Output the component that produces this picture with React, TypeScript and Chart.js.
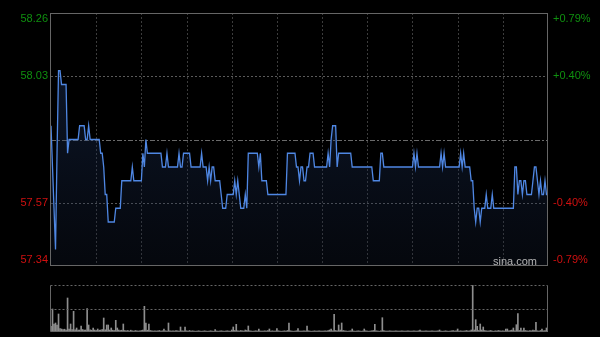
import { useEffect, useRef } from 'react';
import { Chart, registerables } from 'chart.js';

Chart.register(...registerables);

// ---- data ----
const prevClose = 57.8;
const priceMin = 57.34;
const priceMax = 58.26;
const leftTickValues = [58.26, 58.03, 57.57, 57.34];
const leftTickLabels = ['58.26', '58.03', '57.57', '57.34'];
const rightTickLabels = ['+0.79%', '+0.40%', '-0.40%', '-0.79%'];
const timeGridMinutes = [30, 60, 90, 120, 150, 180, 210, 240, 270, 300];
const lastMinute = 330;

const prices = [
  57.85, 57.70, 57.55, 57.40, 57.75, 58.05, 58.05, 58.00, 58.00, 58.00,
  58.00, 57.75, 57.80, 57.80, 57.80, 57.80, 57.80, 57.80, 57.80, 57.85,
  57.85, 57.85, 57.85, 57.80, 57.80, 57.85, 57.80, 57.80, 57.80, 57.80,
  57.80, 57.80, 57.80, 57.75, 57.75, 57.70, 57.60, 57.60, 57.50, 57.50,
  57.50, 57.50, 57.50, 57.55, 57.55, 57.55, 57.55, 57.65, 57.65, 57.65,
  57.65, 57.65, 57.65, 57.65, 57.70, 57.65, 57.65, 57.65, 57.65, 57.65,
  57.65, 57.75, 57.70, 57.80, 57.75, 57.75, 57.75, 57.75, 57.75, 57.75,
  57.75, 57.75, 57.75, 57.75, 57.70, 57.70, 57.70, 57.75, 57.70, 57.70,
  57.70, 57.70, 57.70, 57.70, 57.70, 57.75, 57.70, 57.70, 57.75, 57.75,
  57.75, 57.75, 57.75, 57.70, 57.70, 57.70, 57.70, 57.70, 57.70, 57.70,
  57.75, 57.70, 57.70, 57.70, 57.65, 57.70, 57.65, 57.70, 57.70, 57.65,
  57.65, 57.65, 57.65, 57.60, 57.55, 57.55, 57.55, 57.60, 57.60, 57.60,
  57.60, 57.60, 57.65, 57.60, 57.65, 57.60, 57.55, 57.55, 57.55, 57.60,
  57.55, 57.75, 57.75, 57.75, 57.75, 57.75, 57.75, 57.75, 57.70, 57.75,
  57.65, 57.65, 57.65, 57.65, 57.60, 57.60, 57.60, 57.60, 57.60, 57.60,
  57.60, 57.60, 57.60, 57.60, 57.60, 57.60, 57.60, 57.75, 57.75, 57.75,
  57.75, 57.75, 57.75, 57.70, 57.70, 57.65, 57.70, 57.70, 57.65, 57.65,
  57.70, 57.70, 57.75, 57.75, 57.75, 57.70, 57.70, 57.70, 57.70, 57.70,
  57.70, 57.70, 57.70, 57.70, 57.75, 57.70, 57.80, 57.85, 57.85, 57.85,
  57.70, 57.75, 57.75, 57.75, 57.75, 57.75, 57.75, 57.75, 57.75, 57.75,
  57.70, 57.70, 57.70, 57.70, 57.70, 57.70, 57.70, 57.70, 57.70, 57.70,
  57.70, 57.70, 57.70, 57.70, 57.65, 57.65, 57.65, 57.65, 57.65, 57.75,
  57.75, 57.70, 57.70, 57.70, 57.70, 57.70, 57.70, 57.70, 57.70, 57.70,
  57.70, 57.70, 57.70, 57.70, 57.70, 57.70, 57.70, 57.70, 57.70, 57.70,
  57.70, 57.75, 57.70, 57.75, 57.70, 57.70, 57.70, 57.70, 57.70, 57.70,
  57.70, 57.70, 57.70, 57.70, 57.70, 57.70, 57.70, 57.70, 57.70, 57.75,
  57.70, 57.75, 57.70, 57.70, 57.70, 57.70, 57.70, 57.70, 57.70, 57.70,
  57.70, 57.70, 57.75, 57.70, 57.75, 57.70, 57.70, 57.70, 57.70, 57.65,
  57.65, 57.55, 57.50, 57.55, 57.55, 57.50, 57.55, 57.55, 57.55, 57.60,
  57.55, 57.55, 57.55, 57.60, 57.55, 57.55, 57.55, 57.55, 57.55, 57.55,
  57.55, 57.55, 57.55, 57.55, 57.55, 57.55, 57.55, 57.55, 57.70, 57.70,
  57.60, 57.65, 57.65, 57.60, 57.65, 57.65, 57.60, 57.60, 57.60, 57.60,
  57.65, 57.70, 57.70, 57.65, 57.60, 57.65, 57.60, 57.60, 57.65, 57.60,
  57.60,
];

const volumes = [
  57, 230, 80, 90, 70, 180, 33, 30, 25, 28,
  20, 340, 30, 80, 25, 207, 22, 40, 18, 20,
  60, 25, 18, 20, 233, 70, 22, 18, 40, 20,
  15, 30, 18, 20, 25, 140, 22, 70, 70, 20,
  40, 18, 15, 117, 40, 20, 15, 18, 80, 15,
  12, 15, 10, 18, 12, 10, 15, 12, 10, 12,
  15, 20, 257, 90, 18, 80, 15, 12, 10, 12,
  10, 12, 15, 10, 12, 30, 12, 10, 90, 12,
  10, 12, 10, 15, 12, 10, 50, 12, 10, 50,
  12, 10, 15, 10, 12, 10, 8, 10, 12, 10,
  8, 10, 12, 10, 8, 10, 12, 10, 8, 23,
  10, 8, 10, 12, 10, 8, 10, 12, 10, 8,
  20, 50, 15, 77, 12, 10, 15, 12, 10, 20,
  15, 60, 12, 10, 8, 10, 12, 10, 30, 10,
  8, 10, 12, 10, 15, 30, 10, 12, 8, 10,
  33, 12, 10, 8, 10, 12, 10, 15, 90, 12,
  10, 8, 10, 12, 33, 10, 8, 10, 12, 10,
  60, 12, 10, 8, 10, 12, 8, 10, 12, 10,
  8, 10, 12, 10, 15, 20, 30, 12, 177, 15,
  12, 70, 20, 90, 15, 12, 10, 8, 10, 12,
  30, 10, 8, 10, 12, 10, 8, 10, 30, 12,
  10, 8, 10, 12, 15, 77, 12, 10, 8, 12,
  143, 15, 10, 8, 10, 12, 10, 8, 10, 12,
  10, 8, 10, 12, 10, 8, 10, 12, 10, 8,
  10, 12, 10, 8, 12, 20, 10, 8, 10, 12,
  10, 8, 10, 12, 10, 8, 10, 12, 20, 10,
  8, 10, 12, 10, 8, 10, 12, 15, 10, 12,
  30, 10, 12, 8, 10, 12, 15, 10, 12, 20,
  470, 20, 123, 57, 15, 80, 20, 50, 15, 12,
  10, 12, 15, 10, 8, 12, 10, 15, 12, 10,
  12, 10, 30, 30, 12, 15, 20, 40, 12, 73,
  183, 15, 40, 12, 40, 15, 12, 10, 15, 12,
  20, 15, 97, 12, 10, 15, 30, 12, 15, 40,
  20,
];
const volumeMax = 470;

const GREEN = '#0f900f';
const RED = '#d01010';
const FONT = '11px Arial, "Liberation Sans", sans-serif';

export default function App() {
  const priceRef = useRef<HTMLCanvasElement>(null);
  const volRef = useRef<HTMLCanvasElement>(null);

  useEffect(() => {
    if (!priceRef.current || !volRef.current) return;

    const pricePlugin = {
      id: 'priceDeco',
      beforeDatasetsDraw(chart: any) {
        const { ctx, chartArea: a, scales } = chart;
        const xs = scales.x;
        const ys = scales.y;
        ctx.save();
        ctx.lineWidth = 1;
        ctx.strokeStyle = '#3c3c3c';
        ctx.setLineDash([2, 2]);
        for (const m of timeGridMinutes) {
          const px = Math.round(xs.getPixelForValue(m)) + 0.5;
          ctx.beginPath();
          ctx.moveTo(px, a.top);
          ctx.lineTo(px, a.bottom);
          ctx.stroke();
        }
        ctx.strokeStyle = '#5a5a5a';
        ctx.setLineDash([2, 2]);
        for (const v of [leftTickValues[1], leftTickValues[2]]) {
          const py = Math.round(ys.getPixelForValue(v)) + 0.5;
          ctx.beginPath();
          ctx.moveTo(a.left, py);
          ctx.lineTo(a.right, py);
          ctx.stroke();
        }
        ctx.strokeStyle = '#6a6a6a';
        ctx.setLineDash([5, 2, 2, 2]);
        const pc = Math.round(ys.getPixelForValue(prevClose)) + 0.5;
        ctx.beginPath();
        ctx.moveTo(a.left, pc);
        ctx.lineTo(a.right, pc);
        ctx.stroke();
        ctx.restore();
      },
      afterDraw(chart: any) {
        const { ctx, chartArea: a, scales } = chart;
        const ys = scales.y;
        ctx.save();
        ctx.strokeStyle = '#666';
        ctx.lineWidth = 1;
        ctx.setLineDash([]);
        ctx.strokeRect(Math.floor(a.left) - 0.5, Math.floor(a.top) + 0.5,
          Math.round(a.right - a.left), Math.round(a.bottom - a.top) - 1);
        ctx.font = FONT;
        ctx.textBaseline = 'middle';
        leftTickValues.forEach((v, k) => {
          let py = ys.getPixelForValue(v);
          if (k === 0) py += 6;
          if (k === leftTickValues.length - 1) py -= 6;
          ctx.fillStyle = v > prevClose ? GREEN : RED;
          ctx.textAlign = 'right';
          ctx.fillText(leftTickLabels[k], a.left - 3, py);
          ctx.textAlign = 'left';
          ctx.fillText(rightTickLabels[k], a.right + 5, py);
        });
        ctx.fillStyle = '#b4b4b4';
        ctx.textAlign = 'right';
        ctx.fillText('sina.com', a.right - 11, a.bottom - 4);
        ctx.restore();
      },
    };

    const volPlugin = {
      id: 'volDeco',
      afterDraw(chart: any) {
        const { ctx, chartArea: a, scales } = chart;
        const ys = scales.y;
        ctx.save();
        ctx.lineWidth = 1;
        ctx.strokeStyle = '#666';
        ctx.setLineDash([]);
        const l = Math.floor(a.left) - 0.5;
        const r = Math.round(a.right) - 0.5;
        const t = Math.floor(a.top) + 0.5;
        const b = Math.round(a.bottom) - 0.5;
        ctx.beginPath();
        ctx.moveTo(l, t);
        ctx.lineTo(l, b);
        ctx.lineTo(r, b);
        ctx.lineTo(r, t);
        ctx.stroke();
        ctx.setLineDash([2, 2]);
        ctx.beginPath();
        ctx.moveTo(l, t);
        ctx.lineTo(r, t);
        const mid = Math.round(ys.getPixelForValue(volumeMax / 2)) + 0.5;
        ctx.moveTo(l, mid);
        ctx.lineTo(r, mid);
        ctx.stroke();
        ctx.restore();
      },
    };

    const priceChart = new Chart(priceRef.current, {
      type: 'line',
      data: {
        datasets: [
          {
            data: prices.map((p, i) => ({ x: i, y: p })),
            borderColor: '#4f87e3',
            borderWidth: 1.3,
            pointRadius: 0,
            tension: 0,
            fill: 'start',
            backgroundColor: (c: any) => {
              const ch = c.chart;
              const a = ch.chartArea;
              if (!a) return 'rgba(0,0,0,0)';
              const g = ch.ctx.createLinearGradient(0, a.top, 0, a.bottom);
              g.addColorStop(0, 'rgba(40,72,135,0.38)');
              g.addColorStop(1, 'rgba(20,30,52,0.25)');
              return g;
            },
          },
        ],
      },
      options: {
        responsive: false,
        animation: false,
        events: [],
        layout: { padding: { left: 51, right: 52, top: 13, bottom: 14 } },
        plugins: { legend: { display: false }, tooltip: { enabled: false } },
        scales: {
          x: { type: 'linear', min: 0, max: lastMinute, display: false },
          y: { type: 'linear', min: priceMin, max: priceMax, display: false },
        },
      },
      plugins: [pricePlugin],
    } as any);

    const volChart = new Chart(volRef.current, {
      type: 'bar',
      data: {
        datasets: [
          {
            data: volumes.map((v, i) => ({ x: i, y: v })),
            backgroundColor: '#8e8e8e',
            borderWidth: 0,
            barThickness: 1,
          },
        ],
      },
      options: {
        responsive: false,
        animation: false,
        events: [],
        layout: { padding: { left: 51, right: 52, top: 5, bottom: 5 } },
        plugins: { legend: { display: false }, tooltip: { enabled: false } },
        scales: {
          x: { type: 'linear', min: 0, max: lastMinute, offset: false, display: false },
          y: { type: 'linear', min: 0, max: volumeMax, display: false },
        },
      },
      plugins: [volPlugin],
    } as any);

    return () => {
      priceChart.destroy();
      volChart.destroy();
    };
  }, []);

  return (
    <div style={{ position: 'fixed', left: 0, top: 0, width: 600, height: 337, background: '#000', overflow: 'hidden' }}>
      <canvas ref={priceRef} width={600} height={280} style={{ position: 'absolute', left: 0, top: 0, width: 600, height: 280 }} />
      <canvas ref={volRef} width={600} height={57} style={{ position: 'absolute', left: 0, top: 280, width: 600, height: 57 }} />
    </div>
  );
}
